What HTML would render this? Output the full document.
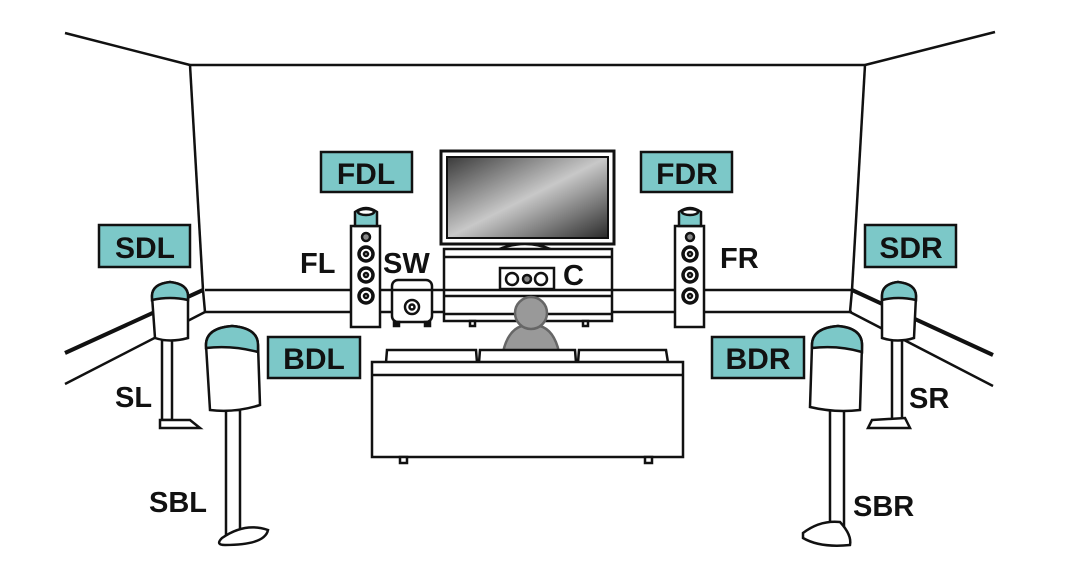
<!DOCTYPE html>
<html><head><meta charset="utf-8"><style>
html,body{margin:0;padding:0;background:#fff;width:1080px;height:569px;overflow:hidden}
text{font-family:"Liberation Sans",sans-serif;font-weight:bold;fill:#111}
</style></head><body>
<svg width="1080" height="569" viewBox="0 0 1080 569" xmlns="http://www.w3.org/2000/svg">
<defs>
<linearGradient id="scr" x1="0" y1="0" x2="1" y2="1">
<stop offset="0" stop-color="#3a3a3a"/><stop offset="0.5" stop-color="#c8c8c8"/><stop offset="1" stop-color="#2a2a2a"/>
</linearGradient>
</defs>
<g stroke="#111" fill="none" stroke-width="2.5">
<!-- room -->
<line x1="65" y1="33" x2="190" y2="65"/>
<line x1="995" y1="32" x2="865" y2="65"/>
<line x1="190" y1="65" x2="865" y2="65"/>
<line x1="190" y1="65" x2="203" y2="290"/>
<line x1="865" y1="65" x2="852" y2="290"/>
<line x1="205" y1="290" x2="852" y2="290"/>
<line x1="205" y1="312" x2="852" y2="312"/>
<line x1="203" y1="290" x2="205" y2="312"/>
<line x1="852" y1="290" x2="850" y2="312"/>
<line x1="203" y1="290" x2="65" y2="353" stroke-width="4"/>
<line x1="205" y1="312" x2="65" y2="384"/>
<line x1="852" y1="290" x2="993" y2="355" stroke-width="4"/>
<line x1="850" y1="312" x2="993" y2="386"/>
</g>
<!-- TV -->
<rect x="441" y="151" width="173" height="93" fill="#fff" stroke="#111" stroke-width="3"/>
<rect x="447" y="157" width="161" height="81" fill="url(#scr)" stroke="#111" stroke-width="2"/>
<path d="M497 250 Q525 238 553 250 Z" fill="#fff" stroke="#111" stroke-width="2.5"/>
<!-- cabinet -->
<g stroke="#111" stroke-width="2.5" fill="#fff">
<rect x="444" y="249" width="168" height="72"/>
<line x1="444" y1="257" x2="612" y2="257"/>
<line x1="444" y1="290" x2="612" y2="290"/>
<line x1="444" y1="296" x2="612" y2="296"/>
<line x1="444" y1="314" x2="612" y2="314"/>
<rect x="470" y="321" width="5" height="5"/><rect x="583" y="321" width="5" height="5"/>
<!-- center speaker -->
<rect x="500" y="268" width="54" height="21" fill="#fff"/>
<circle cx="512" cy="279" r="6"/><circle cx="527" cy="279" r="4" fill="#888"/><circle cx="541" cy="279" r="6"/>
<!-- sub -->
<rect x="392" y="280" width="40" height="42" rx="6"/>
<line x1="392" y1="290" x2="432" y2="290"/>
<circle cx="412" cy="307" r="7"/><circle cx="412" cy="307" r="2.5"/>
<rect x="394" y="322" width="5" height="4" fill="#111"/><rect x="425" y="322" width="5" height="4" fill="#111"/>
<!-- FL tower -->
<rect x="351" y="226" width="29" height="101"/>
<path d="M355 226 L355 212 Q366 204 377 212 L377 226 Z" fill="#7cc8c8"/>
<ellipse cx="366" cy="212" rx="8" ry="3" fill="#fff"/>
<circle cx="366" cy="237" r="4" fill="#888"/>
<circle cx="366" cy="254" r="7" stroke-width="3.5"/><circle cx="366" cy="254" r="2"/>
<circle cx="366" cy="275" r="7" stroke-width="3.5"/><circle cx="366" cy="275" r="2"/>
<circle cx="366" cy="296" r="7" stroke-width="3.5"/><circle cx="366" cy="296" r="2"/>
<!-- FR tower -->
<rect x="675" y="226" width="29" height="101"/>
<path d="M679 226 L679 212 Q690 204 701 212 L701 226 Z" fill="#7cc8c8"/>
<ellipse cx="690" cy="212" rx="8" ry="3" fill="#fff"/>
<circle cx="690" cy="237" r="4" fill="#888"/>
<circle cx="690" cy="254" r="7" stroke-width="3.5"/><circle cx="690" cy="254" r="2"/>
<circle cx="690" cy="275" r="7" stroke-width="3.5"/><circle cx="690" cy="275" r="2"/>
<circle cx="690" cy="296" r="7" stroke-width="3.5"/><circle cx="690" cy="296" r="2"/>
<!-- person -->
<path d="M503 352 Q508 330 522 326 L540 326 Q554 330 559 352 Z" fill="#999" stroke="#666"/>
<circle cx="531" cy="313" r="16" fill="#999" stroke="#666"/>
<!-- sofa -->
<path d="M387 350 L476 350 L478 375 L385 375 Z"/>
<path d="M480 350 L575 350 L577 375 L478 375 Z"/>
<path d="M579 350 L666 350 L670 375 L577 375 Z"/>
<rect x="372" y="362" width="311" height="95"/>
<line x1="372" y1="375" x2="683" y2="375"/>
<rect x="400" y="457" width="7" height="6"/><rect x="645" y="457" width="7" height="6"/>
<!-- SL -->
<rect x="162" y="340" width="10" height="80"/>
<path d="M160 420 L190 420 L200 428 L160 428 Z"/>
<path d="M152 296 Q152 284 170 282 Q188 284 188 296 L188 338 Q170 343 155 338 Z"/>
<path d="M152 296 Q152 284 170 282 Q188 284 188 296 L188 300 Q170 296 152 300 Z" fill="#7cc8c8"/>
<!-- SBL -->
<rect x="226" y="410" width="14" height="125"/>
<path d="M222 538 Q245 522 268 530 Q265 545 225 545 Q215 545 222 538 Z"/>
<path d="M206 345 Q206 328 232 326 Q258 328 258 345 L260 405 Q235 413 210 410 Z"/>
<path d="M206 345 Q206 328 232 326 Q258 328 258 345 L258 352 Q232 345 206 348 Z" fill="#7cc8c8"/>
<!-- SR -->
<rect x="892" y="340" width="10" height="80"/>
<path d="M872 420 L905 418 L910 428 L868 428 Z"/>
<path d="M882 296 Q882 284 898 282 Q916 284 916 296 L914 338 Q898 343 882 338 Z"/>
<path d="M882 296 Q882 284 898 282 Q916 284 916 296 L916 300 Q898 296 882 300 Z" fill="#7cc8c8"/>
<!-- SBR -->
<rect x="830" y="410" width="14" height="125"/>
<path d="M803 533 Q820 520 840 522 Q852 535 850 545 Q820 548 803 538 Z"/>
<path d="M812 345 Q812 328 838 326 Q862 328 862 345 L860 410 Q835 413 810 407 Z"/>
<path d="M812 345 Q812 328 838 326 Q862 328 862 345 L862 352 Q838 345 812 348 Z" fill="#7cc8c8"/>
</g>
<!-- label boxes -->
<g fill="#7cc8c8" stroke="#111" stroke-width="2.5">
<rect x="321" y="152" width="91" height="40"/>
<rect x="641" y="152" width="91" height="40"/>
<rect x="99" y="225" width="91" height="42"/>
<rect x="865" y="225" width="91" height="42"/>
<rect x="268" y="337" width="92" height="41"/>
<rect x="712" y="337" width="92" height="41"/>
</g>
<g font-size="30" text-anchor="middle">
<text x="366" y="184">FDL</text>
<text x="687" y="184">FDR</text>
<text x="145" y="258">SDL</text>
<text x="911" y="258">SDR</text>
<text x="314" y="369">BDL</text>
<text x="758" y="369">BDR</text>
</g>
<g font-size="29">
<text x="300" y="273">FL</text>
<text x="383" y="273">SW</text>
<text x="563" y="285">C</text>
<text x="720" y="268">FR</text>
<text x="115" y="407">SL</text>
<text x="909" y="408">SR</text>
<text x="149" y="512">SBL</text>
<text x="853" y="516">SBR</text>
</g>
</svg>
</body></html>
